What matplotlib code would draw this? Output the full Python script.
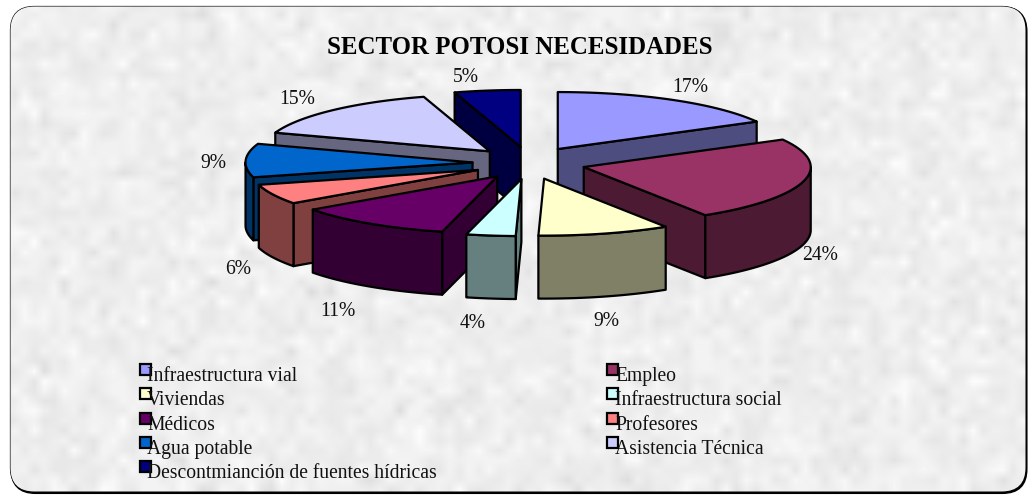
import numpy as np
import matplotlib
matplotlib.use("Agg")
import matplotlib.pyplot as plt
from matplotlib.patches import FancyBboxPatch, Polygon, Rectangle

categories = ["Infraestructura vial", "Empleo", "Viviendas", "Infraestructura social",
              "Médicos", "Profesores", "Agua potable", "Asistencia Técnica",
              "Descontmianción de fuentes hídricas"]
# the labels below are what the chart prints
values = [17.0, 24.0, 9.4, 3.5, 11.2, 5.7, 9.5, 15.0, 4.7]
pct_labels = ["17%", "24%", "9%", "4%", "11%", "6%", "9%", "15%", "5%"]
top_colors = ["#9999FF", "#993366", "#FFFFCC", "#CCFFFF", "#660066",
              "#FF8080", "#0066CC", "#CCCCFF", "#000080"]
side_colors = ["#4D4D80", "#4D1A33", "#808066", "#668080", "#330033",
               "#804040", "#003366", "#666680", "#000040"]
title = "SECTOR POTOSI NECESIDADES"

# pie geometry in pixels
cx, cy = 529, 163
rx, ry = 227, 57
ex, ey = 56.5, 16.2
depth = 63
# back slices first
draw_order = [8, 0, 7, 6, 5, 1, 4, 2, 3]
label_xy = [(690, 88), (820, 256), (606, 321), (473, 324), (338, 311),
            (238, 270), (213, 164), (297, 99), (466, 78)]

fig = plt.figure(figsize=(10.28, 4.95), dpi=100)
ax = fig.add_axes([0, 0, 1, 1])
ax.set_xlim(0, 1028)
ax.set_ylim(495, 0)
ax.axis("off")

# mottled paper background, clipped to the rounded frame
rng = np.random.RandomState(3)
coarse = rng.normal(0, 1, (25, 52))
mid_n = rng.normal(0, 1, (50, 104))
tex = 238 + 2 * np.kron(coarse, np.ones((2, 2))) + 5 * mid_n
tex = np.clip(tex, 218, 252) / 255

shadow = FancyBboxPatch((11.5, 7.5), 1015, 485.5, boxstyle="round,pad=0,rounding_size=24",
                        fc="black", ec="black", lw=1.5, zorder=0)
ax.add_patch(shadow)
frame = FancyBboxPatch((10.5, 6.5), 1015, 485, boxstyle="round,pad=0,rounding_size=24",
                       fc="#ECECEA", ec="black", lw=0.9, zorder=1)
ax.add_patch(frame)
im = ax.imshow(tex, cmap="gray", vmin=0, vmax=1, extent=(0, 1028, 495, 0),
               interpolation="bilinear", aspect="auto", zorder=1.5)
im.set_clip_path(frame)
ax.set_xlim(0, 1028)
ax.set_ylim(495, 0)


def rim(theta, x0, y0):
    return x0 + rx * np.sin(theta), y0 - ry * np.cos(theta)


edges = np.radians(np.concatenate([[0], np.cumsum(values)]) * 3.6)
edges[-1] = 2 * np.pi

for i in draw_order:
    t1, t2 = edges[i], edges[i + 1]
    mid = (t1 + t2) / 2
    ax0 = cx + ex * np.sin(mid)
    ay0 = cy - ey * np.cos(mid)
    ts = np.linspace(t1, t2, 60)
    xs, ys = rim(ts, ax0, ay0)

    # flat cut faces that look at the viewer
    if np.sin(t1) < -1e-6:
        x1, y1 = rim(t1, ax0, ay0)
        ax.add_patch(Polygon([(ax0, ay0), (x1, y1), (x1, y1 + depth), (ax0, ay0 + depth)],
                             fc=side_colors[i], ec="black", lw=1.6, joinstyle="round", zorder=2))
    if np.sin(t2) > 1e-6:
        x2, y2 = rim(t2, ax0, ay0)
        ax.add_patch(Polygon([(ax0, ay0), (x2, y2), (x2, y2 + depth), (ax0, ay0 + depth)],
                             fc=side_colors[i], ec="black", lw=1.6, joinstyle="round", zorder=2))

    # outer wall, front half of the ellipse only
    lo = max(t1, np.pi / 2)
    hi = min(t2, 3 * np.pi / 2)
    if hi > lo:
        tw = np.linspace(lo, hi, 60)
        wx, wy = rim(tw, ax0, ay0)
        pts = list(zip(wx, wy)) + list(zip(wx[::-1], wy[::-1] + depth))
        ax.add_patch(Polygon(pts, fc=side_colors[i], ec="black", lw=1.6,
                             joinstyle="round", zorder=2))

    top = [(ax0, ay0)] + list(zip(xs, ys))
    ax.add_patch(Polygon(top, fc=top_colors[i], ec="black", lw=1.6, joinstyle="round", zorder=2))

serif = "Liberation Serif"
ax.text(519.5, 48, title, family=serif, fontsize=17.9, fontweight="bold",
        ha="center", va="center", zorder=6)
for (lx, ly), s in zip(label_xy, pct_labels):
    ax.text(lx, ly, s, family=serif, fontsize=14.1, color="#111111",
            ha="center", va="center", zorder=6)

# legend, markers overlap the text like in the original
leg_cols = [(139.5, 147), (606.5, 615)]
for k, name in enumerate(categories):
    col = k % 2
    row = k // 2
    mx, tx = leg_cols[col]
    ax.add_patch(Rectangle((mx, 364 + row * 24.25), 11.5, 11, fc=top_colors[k], ec="black",
                           lw=1.6, zorder=6))
    ax.text(tx, 381 + row * 24.25, name, family=serif, fontsize=14.15, color="#111111",
            ha="left", va="baseline", zorder=7)

fig.savefig("out.png", dpi=100)
